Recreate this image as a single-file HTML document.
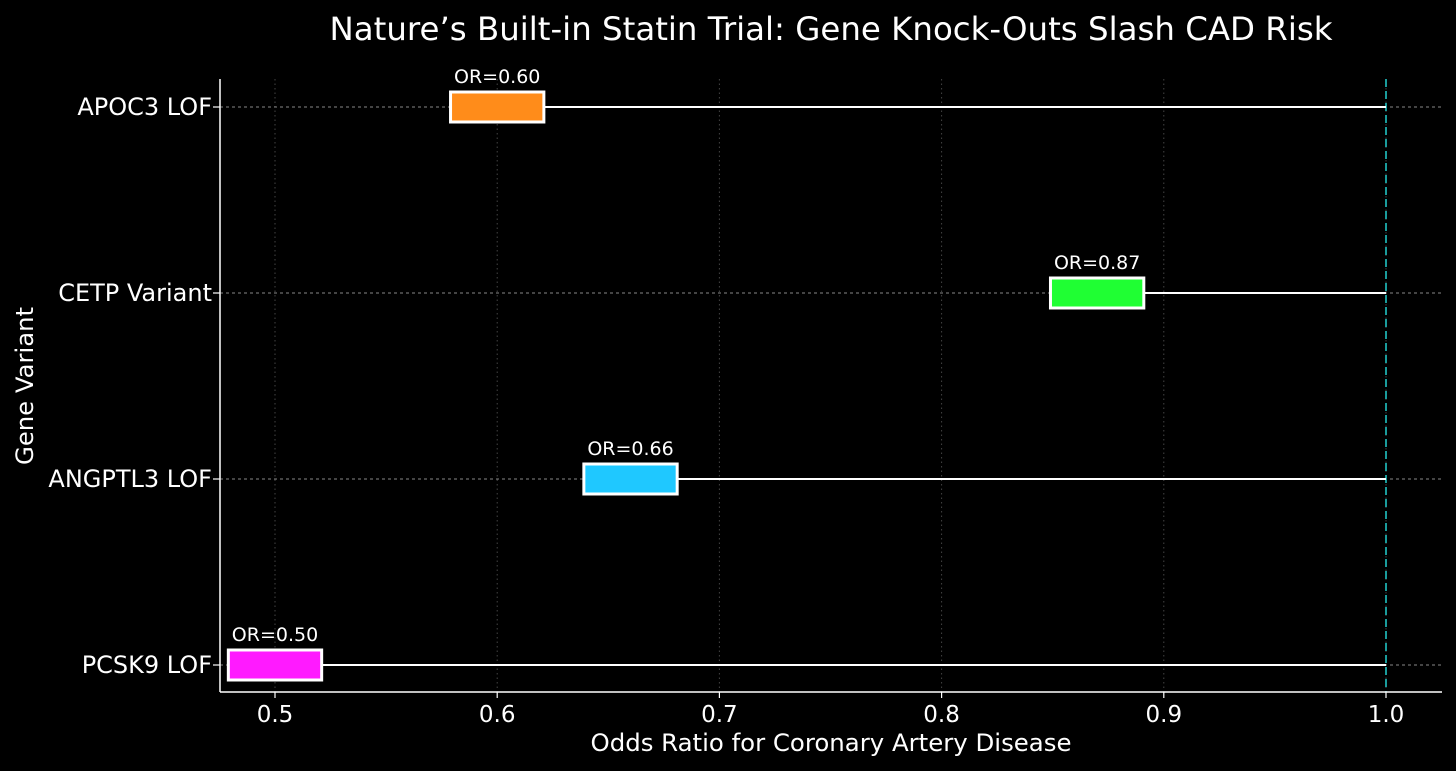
<!DOCTYPE html>
<html><head><meta charset="utf-8"><style>
html,body{margin:0;padding:0;background:#000;}
svg{display:block;font-family:"DejaVu Sans","Liberation Sans",sans-serif;}
</style></head><body>
<svg id="chart" width="1456" height="771" viewBox="0 0 1456 771">
<rect width="1456" height="771" fill="#000"/>
<text x="831" y="40" fill="#fff" font-size="32" text-anchor="middle" textLength="1003" lengthAdjust="spacingAndGlyphs">Nature’s Built-in Statin Trial: Gene Knock-Outs Slash CAD Risk</text>
<text x="831" y="751" fill="#fff" font-size="24" text-anchor="middle" textLength="481" lengthAdjust="spacingAndGlyphs">Odds Ratio for Coronary Artery Disease</text>
<text x="0" y="0" transform="translate(33,386) rotate(-90)" fill="#fff" font-size="24" text-anchor="middle" textLength="158" lengthAdjust="spacingAndGlyphs">Gene Variant</text>
<g id="plot"></g>
</svg>
<script>
const categories = ["APOC3 LOF","CETP Variant","ANGPTL3 LOF","PCSK9 LOF"];
const oddsRatios = [0.60,0.87,0.66,0.50];
const colors = ["#ff8c1a","#1fff33","#1fc8ff","#ff1aff"];
const xTicks = [0.5,0.6,0.7,0.8,0.9,1.0];
const xTickLabels = ["0.5","0.6","0.7","0.8","0.9","1.0"];
const refValue = 1.0;
const boxHalf = 0.021;

const NS="http://www.w3.org/2000/svg";
const g=document.getElementById('plot');
const L=220,R=1442,T=79,B=692;
const x=v=>275+(v-0.5)*2222;
const y=i=>107+i*186;
function mk(tag,attrs,parent){const e=document.createElementNS(NS,tag);for(const k in attrs)e.setAttribute(k,attrs[k]);(parent||g).appendChild(e);return e;}

xTicks.forEach((t,i)=>{
  const gl=mk('line',{x1:x(t),x2:x(t),y1:T,y2:B,stroke:'#444','stroke-width':1,'stroke-dasharray':'1.5,3'});
  
  
  const tk=mk('line',{x1:x(t),x2:x(t),y1:B,y2:B+6,stroke:'#fff','stroke-width':1.2});
  
  
  const lb=mk('text',{x:x(t),y:B+30,fill:'#fff','font-size':23,'text-anchor':'middle'});
  lb.textContent=xTickLabels[i];
  
  
});

categories.forEach((c,i)=>{
  const hl=mk('line',{x1:L,x2:R,y1:y(i),y2:y(i),stroke:'#888','stroke-width':1,'stroke-dasharray':'3,3'});
  
  
  const tk=mk('line',{x1:L-7,x2:L,y1:y(i),y2:y(i),stroke:'#fff','stroke-width':1.2});
  
  
  const lb=mk('text',{x:L-8,y:y(i)+8,fill:'#fff','font-size':24,'text-anchor':'end'});
  lb.textContent=c;
  
  
});

const ref=mk('line',{x1:x(refValue),x2:x(refValue),y1:T,y2:B,stroke:'#1a9c9c','stroke-width':2,'stroke-dasharray':'8,4'});



categories.forEach((c,i)=>{
  const v=oddsRatios[i];
  const ln=mk('line',{x1:x(v),x2:x(refValue),y1:y(i),y2:y(i),stroke:'#fff','stroke-width':2});
  
  
  const bx=mk('rect',{x:x(v-boxHalf),y:y(i)-15,width:x(v+boxHalf)-x(v-boxHalf),height:30,fill:colors[i],stroke:'#fff','stroke-width':3});
  
  
  const t=mk('text',{x:x(v),y:y(i)-24,fill:'#fff','font-size':19,'text-anchor':'middle'});
  t.textContent='OR='+v.toFixed(2);
  
  
});

const sl=mk('line',{x1:L,x2:L,y1:T,y2:B,stroke:'#fff','stroke-width':1.5});


const sb=mk('line',{x1:L,x2:R,y1:B,y2:B,stroke:'#fff','stroke-width':1.5});


</script>
</body></html>
